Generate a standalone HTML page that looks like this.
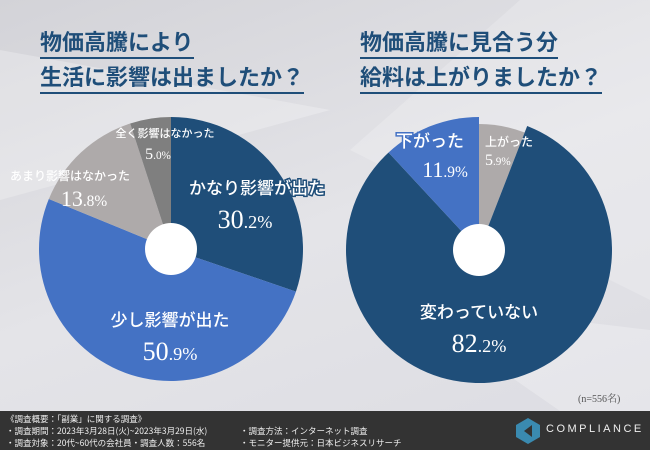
<!DOCTYPE html>
<html><head><meta charset="utf-8"><style>
body{margin:0;width:650px;height:450px;overflow:hidden;font-family:"Liberation Sans","Noto Sans CJK JP",sans-serif;}
#bg{position:absolute;left:0;top:0;width:650px;height:450px;background:linear-gradient(160deg,#d3d3d8 0%,#e4e4e8 50%,#dcdce2 100%);}
.title{position:absolute;color:#1f4e79;font-weight:bold;font-size:22px;line-height:34px;font-family:"Noto Sans CJK JP",sans-serif;}
.title span{display:inline-block;border-bottom:2px solid #1f4e79;line-height:32px;}
#footer{position:absolute;left:0;top:411px;width:650px;height:39px;background:#333;color:#eee;font-size:8.5px;font-family:"Noto Sans CJK JP",sans-serif;}
</style></head><body>
<div id="bg"></div>
<svg width="650" height="450" style="position:absolute;left:0;top:0">
<polygon points="0,50 330,110 0,200" fill="#ffffff" opacity="0.25"/>
<polygon points="350,150 520,0 650,0 650,300" fill="#ffffff" opacity="0.2"/>
<polygon points="400,300 650,330 650,411 560,411" fill="#ffffff" opacity="0.25"/>
</svg>
<div class="title" style="left:40px;top:24px"><span>物価高騰により</span><br><span>生活に影響は出ましたか？</span></div>
<div class="title" style="left:360px;top:24px"><span>物価高騰に見合う分</span><br><span>給料は上がりましたか？</span></div>
<svg id="chart" width="650" height="450" style="position:absolute;left:0;top:0"></svg>
<div style="position:absolute;left:578px;top:390px;font-size:10px;color:#555;font-family:'Liberation Serif','Noto Serif CJK SC',serif">(n=556名)</div>
<div id="footer">
<div style="position:absolute;left:6px;top:2px;line-height:12px">《調査概要：「副業」に関する調査》<br>・調査期間：2023年3月28日(火)~2023年3月29日(水)<br>・調査対象：20代~60代の会社員・調査人数：556名</div>
<div style="position:absolute;left:240px;top:14px;line-height:12px">・調査方法：インターネット調査<br>・モニター提供元：日本ビジネスリサーチ</div>
<svg style="position:absolute;left:515px;top:6px" width="26" height="28"><polygon points="13,1 25,8 25,20 13,27 1,20 1,8" fill="#3a8ab0"/><polygon points="17,8 9,14 17,20" fill="#333"/></svg>
<div style="position:absolute;left:546px;top:12px;font-size:11px;letter-spacing:2.5px;font-family:'Liberation Sans',sans-serif;color:#eee">COMPLIANCE</div>
</div>
<script>
const cats1=["かなり影響が出た","少し影響が出た","あまり影響はなかった","全く影響はなかった"];
const vals1=[30.2,50.9,13.8,5.0];
const cats2=["上がった","変わっていない","下がった"];
const vals2=[5.9,82.2,11.9];
const NS="http://www.w3.org/2000/svg";
const svg=document.getElementById('chart');
function arc(cx,cy,r,a0,a1){const p=a=>[cx+r*Math.sin(a),cy-r*Math.cos(a)];const [x0,y0]=p(a0),[x1,y1]=p(a1);const lg=(a1-a0)>Math.PI?1:0;return `M${cx},${cy}L${x0},${y0}A${r},${r} 0 ${lg} 1 ${x1},${y1}Z`;}
function pie(cx,cy,vals,colors,radii,name){const tot=vals.reduce((a,b)=>a+b,0);let a=0;vals.forEach((v,i)=>{const a1=a+v/tot*2*Math.PI;const p=document.createElementNS(NS,'path');p.setAttribute('d',arc(cx,cy,radii[i],a,a1));p.setAttribute('fill',colors[i]);


svg.appendChild(p);a=a1;});
const h=document.createElementNS(NS,'circle');h.setAttribute('cx',cx);h.setAttribute('cy',cy);h.setAttribute('r',26);h.setAttribute('fill','#fff');


svg.appendChild(h);}
pie(171,249,vals1,["#1f4e79","#4472c4","#aeaaaa","#7f7f7f"],[132,132,132,132],'pie1');
pie(479,250,vals2,["#aeaaaa","#1f4e79","#4472c4"],[126,133,133],'pie2');
function txt(x,y,s,size,anchor,name,stroke){const t=document.createElementNS(NS,'text');t.setAttribute('x',x);t.setAttribute('y',y);t.setAttribute('font-size',size);t.setAttribute('text-anchor',anchor);t.setAttribute('fill','#fff');
t.setAttribute('font-family','"Liberation Serif","Noto Sans CJK JP",serif');
t.setAttribute('font-weight','500');
if(stroke){t.setAttribute('stroke',stroke);t.setAttribute('stroke-width','3');t.setAttribute('paint-order','stroke');}
t.innerHTML=s;


svg.appendChild(t);}
const pct=v=>{const s=v.toFixed(1).split('.');return s[0]+'<tspan font-size="70%">.'+s[1]+'%</tspan>';};
txt(257,194,cats1[0],17,'middle','label-kanari',"#1f4e79");
txt(245,228,pct(vals1[0]),26,'middle','value-kanari');
txt(170,326,cats1[1],17,'middle','label-sukoshi');
txt(170,360,pct(vals1[1]),26,'middle','value-sukoshi');
txt(70,180,cats1[2],12,'middle','label-amari');
txt(84,206,pct(vals1[2]),22,'middle','value-amari');
txt(165,137,cats1[3],11,'middle','label-mattaku');
txt(158,159,pct(vals1[3]),16,'middle','value-mattaku');
txt(485,146,cats2[0],12,'start','label-agatta');
txt(485,165,pct(vals2[0]),16,'start','value-agatta');
txt(430,147,cats2[2],17,'middle','label-sagatta',"#4472c4");
txt(445,177,pct(vals2[2]),22,'middle','value-sagatta');
txt(479,318,cats2[1],17,'middle','label-kawatteinai');
txt(479,352,pct(vals2[1]),26,'middle','value-kawatteinai');
</script>
</body></html>
